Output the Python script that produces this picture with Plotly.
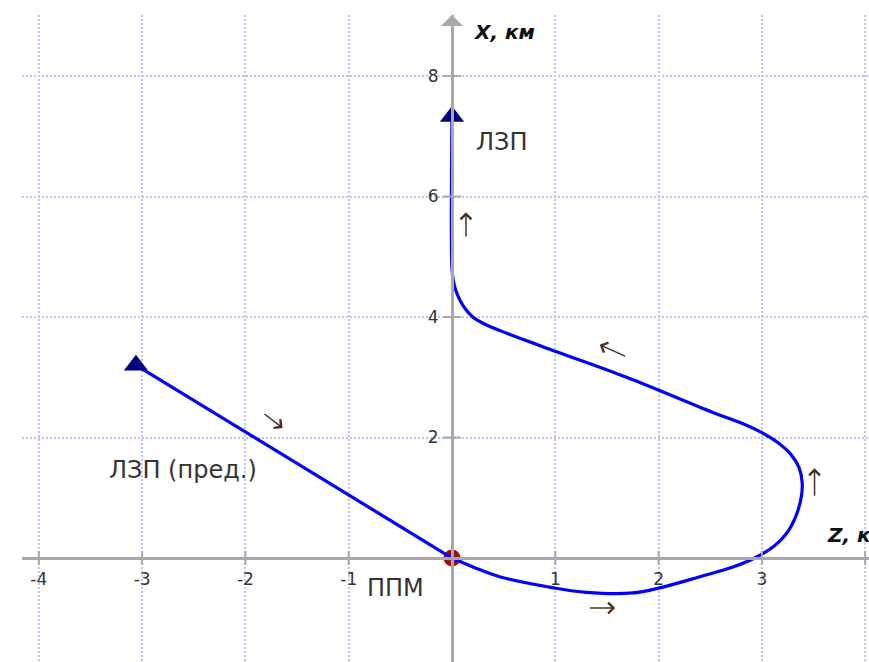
import plotly.graph_objects as go

# ---- data (km) ----
lead_z = [-3.06, 0.0]
lead_x = [3.2, 0.0]

path_z = [0.0, 0.22, 0.46, 1.0, 1.3, 1.75, 2.0, 2.4, 2.72, 2.93, 3.12, 3.24, 3.33, 3.38, 3.39,
          3.36, 3.28, 3.15, 3.0, 2.8, 2.55, 1.69, 1.02, 0.53, 0.32, 0.20, 0.11, 0.05,
          0.015, 0.0, 0.0]
path_x = [0.0, -0.16, -0.31, -0.50, -0.57, -0.58, -0.50, -0.31, -0.15, 0.0, 0.2, 0.41, 0.7, 1.0, 1.25,
          1.5, 1.72, 1.92, 2.08, 2.24, 2.40, 3.0, 3.42, 3.73, 3.88, 4.0, 4.18, 4.38,
          4.58, 4.8, 7.33]

end_z = [-3.06, 0.0]   # triangles
end_x = [3.2, 7.33]
ppm_z = [0.0]
ppm_x = [0.0]

xticks = [-4, -3, -2, -1, 1, 2, 3, 4]
yticks = [2, 4, 6, 8]

labels = ["ЛЗП", "ЛЗП (пред.)", "ППМ"]
label_z = [0.48, -2.60, -0.55]
label_x = [6.90, 1.46, -0.50]

# direction arrows: tail (z, x) -> head (z, x)
arr_tail_z = [0.135, 1.69, 3.51, 1.32, -1.83]
arr_tail_x = [5.31, 3.34, 1.01, -0.83, 2.41]
arr_head_z = [0.135, 1.43, 3.51, 1.58, -1.64]
arr_head_x = [5.74, 3.54, 1.49, -0.83, 2.16]

XR = [-4.163, 4.037]
YR = [-1.726, 9.013]

FONT = "DejaVu Sans, Verdana, sans-serif"
TXT = "#333333"
AXC = "#a8a8a8"

fig = go.Figure()
fig.add_trace(go.Scatter(x=ppm_z, y=ppm_x, mode="markers",
                         marker=dict(size=17, color="#9e1010", line=dict(width=0)),
                         hoverinfo="skip"))
fig.add_trace(go.Scatter(x=lead_z, y=lead_x, mode="lines",
                         line=dict(color="#0000ff", width=3.2), hoverinfo="skip"))
fig.add_trace(go.Scatter(x=path_z, y=path_x, mode="lines",
                         line=dict(color="#0000ff", width=3.2, shape="spline", smoothing=1.0),
                         hoverinfo="skip"))
fig.add_trace(go.Scatter(x=end_z, y=end_x, mode="markers",
                         marker=dict(symbol="triangle-up", size=21, color="#000080",
                                     line=dict(width=0)),
                         hoverinfo="skip"))

# label texts
for t, z, x in zip(labels, label_z, label_x):
    fig.add_annotation(x=z, y=x, text=t, showarrow=False,
                       font=dict(family=FONT, size=24, color=TXT))

# axis titles
fig.add_annotation(x=0.50, y=8.73, text="<b><i>X, км</i></b>", showarrow=False,
                   font=dict(family=FONT, size=20, color="#111111"))
fig.add_annotation(x=3.61, y=0.38, text="<b><i>Z, км</i></b>", showarrow=False,
                   xanchor="left", font=dict(family=FONT, size=20, color="#111111"))

# direction arrows
for tz, tx, hz, hx in zip(arr_tail_z, arr_tail_x, arr_head_z, arr_head_x):
    fig.add_annotation(x=hz, y=hx, ax=tz, ay=tx, xref="x", yref="y", axref="x", ayref="y",
                       text="", showarrow=True, arrowhead=4, arrowsize=1.4,
                       arrowwidth=1.5, arrowcolor="#4a3020")

# crossing tick marks
shapes = []
for v in xticks:
    shapes.append(dict(type="line", xref="x", yref="y", x0=v, x1=v,
                       ysizemode="pixel", yanchor=0, y0=-7, y1=7,
                       line=dict(color=AXC, width=2)))
for v in yticks:
    shapes.append(dict(type="line", xref="x", yref="y", y0=v, y1=v,
                       xsizemode="pixel", xanchor=0, x0=-9, x1=9,
                       line=dict(color=AXC, width=2)))
# arrowhead on the vertical axis
shapes.append(dict(type="path", xref="x", yref="y", xsizemode="pixel", ysizemode="pixel",
                   xanchor=0, yanchor=YR[1], path="M-11,-11 L11,-11 L0,0 Z",
                   fillcolor=AXC, line=dict(width=0)))
fig.update_layout(shapes=shapes)

xpos = (0 - YR[0]) / (YR[1] - YR[0])
ypos = (0 - XR[0]) / (XR[1] - XR[0])

GRID = dict(showgrid=True, gridcolor="#bcc2ff", griddash="2px,2px", gridwidth=2)

fig.update_layout(
    width=869, height=662,
    margin=dict(l=22, r=0, t=15, b=0),
    paper_bgcolor="white", plot_bgcolor="white",
    showlegend=False,
    xaxis=dict(range=XR, tickvals=xticks, ticktext=[str(v) for v in xticks], **GRID,
               zeroline=False, showline=True, linecolor=AXC, linewidth=3,
               anchor="free", position=xpos, ticks="", ticklabelstandoff=5,
               tickfont=dict(family=FONT, size=17, color=TXT), fixedrange=True),
    yaxis=dict(range=YR, tickvals=yticks, ticktext=[str(v) for v in yticks], **GRID,
               zeroline=False, showline=True, linecolor=AXC, linewidth=3,
               anchor="free", position=ypos, ticks="", ticklabelstandoff=9,
               tickfont=dict(family=FONT, size=17, color=TXT), fixedrange=True),
)

fig.write_html("out.html")
